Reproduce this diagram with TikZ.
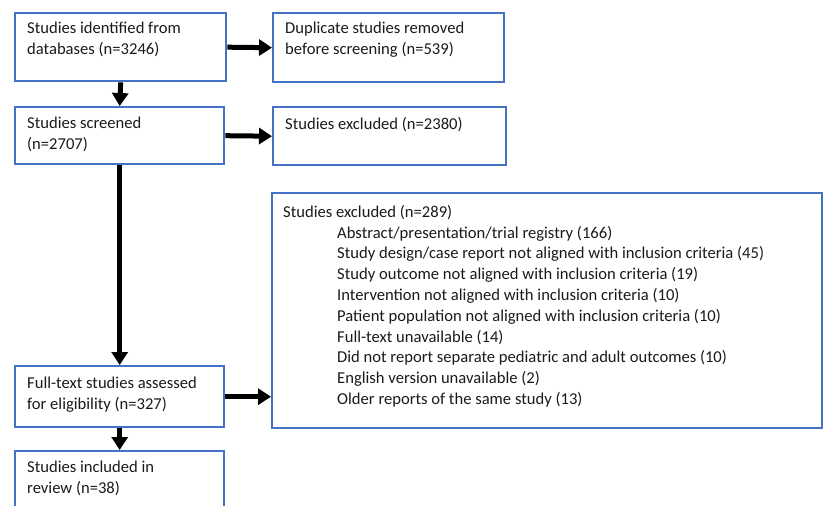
\documentclass[tikz,border=0pt]{standalone}
\usepackage{fontspec}
\setmainfont{Carlito}
\usetikzlibrary{arrows.meta}
\definecolor{boxblue}{HTML}{4472C4}
\definecolor{txt}{HTML}{1A1A1A}
\begin{document}
\begin{tikzpicture}[x=1pt,y=-1pt,
  box/.style={draw=boxblue,line width=2.4pt,anchor=north west,inner sep=0pt},
  lbl/.style={anchor=north west,align=left,inner sep=0pt,text=txt,font=\fontsize{16.6}{20.8}\selectfont},
  arr/.style={line width=5pt,-{Triangle[length=13pt,width=16pt]}}]
\useasboundingbox (0,0) rectangle (825,506);
\clip (0,0) rectangle (825,506);
\node[box,minimum width=211pt,minimum height=68pt] (b1) at (14,12) {};
\node[box,minimum width=231pt,minimum height=69pt] (b2) at (272,12) {};
\node[box,minimum width=209pt,minimum height=57pt] (b3) at (14,106) {};
\node[box,minimum width=233pt,minimum height=58pt] (b4) at (272,106) {};
\node[box,minimum width=550pt,minimum height=235pt] (b5) at (271,192) {};
\node[box,minimum width=209pt,minimum height=61pt] (b6) at (14,365) {};
\node[box,minimum width=209pt,minimum height=70pt] (b7) at (14,450) {};
\node[lbl] (t1) at (27,22) {Studies identified from\\databases (n=3246)};
\node[lbl] (t2) at (285,22) {Duplicate studies removed\\before screening (n=539)};
\node[lbl] (t3) at (27,117) {Studies screened\\(n=2707)};
\node[lbl] (t4) at (285,117) {Studies excluded (n=2380)};
\node[lbl] (t6) at (27,377) {Full-text studies assessed\\for eligibility (n=327)};
\node[lbl] (t7) at (27,461) {Studies included in\\review (n=38)};
\node[lbl] (t5a) at (283,205) {Studies excluded (n=289)};
\node[lbl] (t5b) at (337,225.8) {Abstract/presentation/trial registry (166)\\
Study design/case report not aligned with inclusion criteria (45)\\
Study outcome not aligned with inclusion criteria (19)\\
Intervention not aligned with inclusion criteria (10)\\
Patient population not aligned with inclusion criteria (10)\\
Full-text unavailable (14)\\
Did not report separate pediatric and adult outcomes (10)\\
English version unavailable (2)\\
Older reports of the same study (13)};
\draw[arr] (b1.east) -- (b2.west);
\draw[arr] (b3.east) -- (b4.west);
\draw[arr] (b6.east) -- (b6.east -| b5.west);
\draw[arr] (b1.south) -- (b3.north);
\draw[arr] (b3.south) -- (b6.north);
\draw[arr] (b6.south) -- (b7.north);
\end{tikzpicture}
\end{document}
